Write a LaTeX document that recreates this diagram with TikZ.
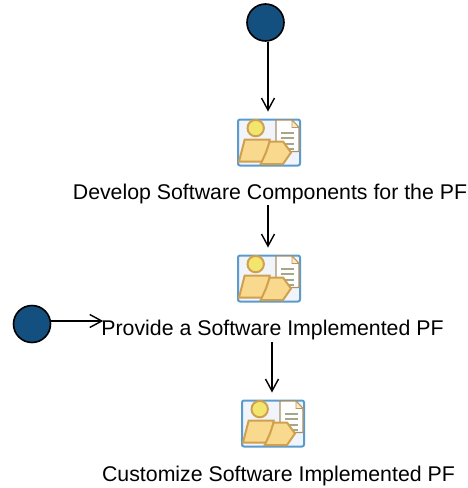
\documentclass[tikz,border=0pt]{standalone}
\usepackage{fontspec}
\setmainfont{Liberation Sans}
\definecolor{startblue}{HTML}{14507F}
\definecolor{framebl}{HTML}{5B9BCB}
\definecolor{framefill}{HTML}{F1F4FA}
\definecolor{iconfill}{HTML}{F8D98E}
\definecolor{iconedge}{HTML}{D0A050}
\definecolor{headfill}{HTML}{F3E66E}
\definecolor{docline}{HTML}{A8A688}
\usetikzlibrary{arrows.meta}
\tikzset{
  startdot/.style={circle,draw=black,line width=1.6pt,fill=startblue,minimum size=37pt,inner sep=0pt},
  lbl/.style={font=\fontsize{21.3pt}{24pt}\selectfont,text=black,inner sep=0pt,anchor=base},
  iconbox/.style={minimum width=62pt,minimum height=46pt,inner sep=0pt,outer sep=0pt},
  conn/.style={draw=black,line width=1.5pt,-{Straight Barb[length=12pt,width=13pt,line width=1.4pt]}},
  pics/worker/.style={code={
    \draw[framebl,line width=2pt,fill=framefill,rounded corners=2pt] (0,0) rectangle (62,46);
    % document
    \draw[iconedge!50!gray,line width=1.2pt,fill=white] (38,0.5) -- (54,0.5) -- (61,8) -- (61,32) -- (38,32) -- cycle;
    \draw[iconedge!70!gray,line width=.9pt,fill=iconfill!50!white] (54,0.5) -- (54,8) -- (61,8) -- cycle;
    \foreach \yy in {13,18.5,24,29}{\draw[docline,line width=2pt] (43,\yy) -- (56,\yy);}
    % figure
    \draw[iconedge,line width=2pt,fill=iconfill] (6.7,20) -- (31.7,20) -- (28,42) -- (1,42) -- cycle;
    \draw[iconedge,line width=2pt,fill=headfill] (17.7,8.6) circle (8.2);
    \draw[iconedge,line width=2pt,fill=iconfill] (31.7,22) -- (45,22) -- (53,33) -- (45,44.5) -- (22.7,44.5) -- (28,33) -- cycle;
  }}
}
\begin{document}
\begin{tikzpicture}[x=1pt,y=-1pt]
  \useasboundingbox (0,0) rectangle (468,488);
  \node[startdot] (start1) at (265.5,22.5) {};
  \node[startdot] (start2) at (32,324) {};
  \node[iconbox] (icon1) at (269,142.5) {};
  \node[iconbox] (icon2) at (269,278.5) {};
  \node[iconbox] (icon3) at (273,423.5) {};
  \pic at (icon1.north west) {worker};
  \pic at (icon2.north west) {worker};
  \pic at (icon3.north west) {worker};
  \node[lbl] (t1) at (270,199.5) {Develop Software Components for the PF};
  \node[lbl] (t2) at (272.5,335) {Provide a Software Implemented PF};
  \node[lbl] (t3) at (278.5,481) {Customize Software Implemented PF};
  \path[conn] ([xshift=-1pt]icon1.north |- start1.south) -- ([xshift=-1pt,yshift=8pt]icon1.north);
  \path[conn] ([xshift=-1pt,yshift=-1pt]icon2.north |- t1.south) -- ([xshift=-1pt,yshift=8pt]icon2.north);
  \path[conn] (start2.east |- 0,321) -- ([xshift=2pt]t2.west |- 0,321);
  \path[conn] ([xshift=-1pt,yshift=-2pt]icon3.north |- t2.south) -- ([xshift=-1pt,yshift=8pt]icon3.north);
\end{tikzpicture}
\end{document}
